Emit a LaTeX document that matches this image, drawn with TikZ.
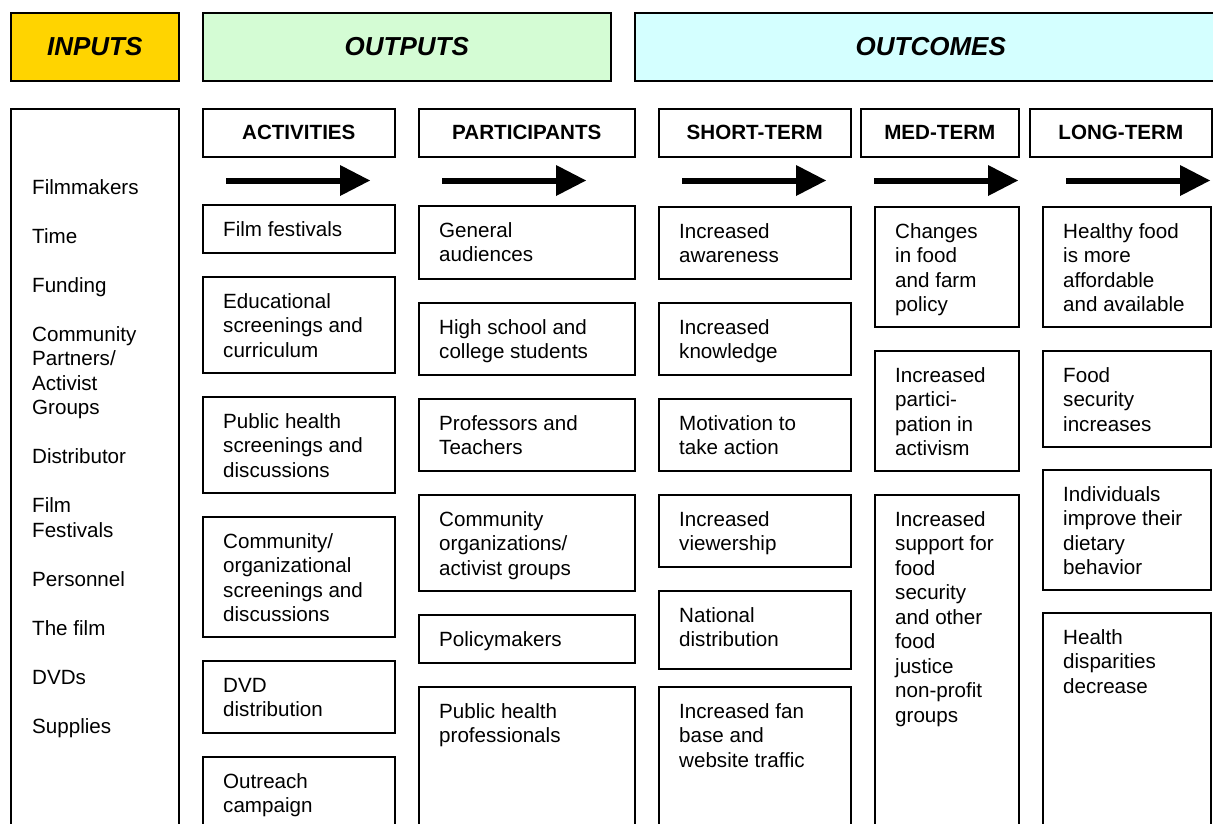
\documentclass[tikz,border=0pt]{standalone}
\usepackage{fontspec}
\setmainfont{Liberation Sans}
\definecolor{inputsgold}{RGB}{255,212,0}
\definecolor{outputsgreen}{RGB}{212,252,212}
\definecolor{outcomescyan}{RGB}{212,255,255}
\newcommand{\lmbox}[6]{%
  \node[frame, minimum width=#4pt, minimum height=#5pt] (#1) at (#2,#3) {};
  \node[txt] (#1-t) at ([xshift=21pt,yshift=-32pt]#1.north west) {\parbox[t]{#4pt}{\raggedright #6}};
}
\begin{document}
\begin{tikzpicture}[x=1pt,y=-1pt,
  frame/.style={draw=black, line width=1.6pt, rectangle, inner sep=0pt, anchor=north west},
  bigtitle/.style={font=\fontsize{26}{30}\selectfont\bfseries\itshape},
  coltitle/.style={font=\fontsize{20.6}{24.5}\selectfont\bfseries},
  txt/.style={font=\fontsize{20.6}{24.5}\selectfont, inner sep=0pt, anchor=base west},
  flowarrow/.style={fill=black}
]
\useasboundingbox (0,0) rectangle (1213,823);
\clip (0,0) rectangle (1213,823);

% top headers
\node[frame, bigtitle, fill=inputsgold, minimum width=168pt, minimum height=68pt] (hin) at (10,12) {INPUTS};
\node[frame, bigtitle, fill=outputsgreen, minimum width=408pt, minimum height=68pt] (hout) at (202,12) {OUTPUTS};
\node[frame, bigtitle, fill=outcomescyan, minimum width=592pt, minimum height=68pt] (hoc) at (634,12) {OUTCOMES};

% inputs column
\node[frame, minimum width=168pt, minimum height=800pt] (inbox) at (10,108) {};
\node[txt] (inlist) at (32,194) {\parbox[t]{150pt}{\raggedright
Filmmakers\\[24.5pt]
Time\\[24.5pt]
Funding\\[24.5pt]
Community\\Partners/\\Activist\\Groups\\[24.5pt]
Distributor\\[24.5pt]
Film\\Festivals\\[24.5pt]
Personnel\\[24.5pt]
The film\\[24.5pt]
DVDs\\[24.5pt]
Supplies}};

% column headers
\node[frame, coltitle, minimum width=192pt, minimum height=48pt] (cact) at (202,108) {ACTIVITIES};
\node[frame, coltitle, minimum width=216pt, minimum height=48pt] (cpar) at (418,108) {PARTICIPANTS};
\node[frame, coltitle, minimum width=192pt, minimum height=48pt] (cst) at (658,108) {SHORT-TERM};
\node[frame, coltitle, minimum width=158pt, minimum height=48pt] (cmt) at (860,108) {MED-TERM};
\node[frame, coltitle, minimum width=182pt, minimum height=48pt] (clt) at (1029,108) {LONG-TERM};

% arrows
\foreach \ax in {226,442,682,874,1066}{
  \fill[flowarrow] (\ax,178) rectangle (\ax+115,184);
  \fill[flowarrow] (\ax+114,165) -- (\ax+144,180.5) -- (\ax+114,196) -- cycle;
}

% activities
\lmbox{a1}{202}{204}{192}{48}{Film festivals}
\lmbox{a2}{202}{276}{192}{96}{Educational\\screenings and\\curriculum}
\lmbox{a3}{202}{396}{192}{96}{Public health\\screenings and\\discussions}
\lmbox{a4}{202}{516}{192}{120}{Community/\\organizational\\screenings and\\discussions}
\lmbox{a5}{202}{660}{192}{72}{DVD\\distribution}
\lmbox{a6}{202}{756}{192}{150}{Outreach\\campaign}

% participants
\lmbox{p1}{418}{205}{216}{73}{General\\audiences}
\lmbox{p2}{418}{302}{216}{72}{High school and\\college students}
\lmbox{p3}{418}{398}{216}{72}{Professors and\\Teachers}
\lmbox{p4}{418}{494}{216}{96}{Community\\organizations/\\activist groups}
\lmbox{p5}{418}{614}{216}{48}{Policymakers}
\lmbox{p6}{418}{686}{216}{200}{Public health\\professionals}

% short-term
\lmbox{s1}{658}{206}{192}{72}{Increased\\awareness}
\lmbox{s2}{658}{302}{192}{72}{Increased\\knowledge}
\lmbox{s3}{658}{398}{192}{72}{Motivation to\\take action}
\lmbox{s4}{658}{494}{192}{72}{Increased\\viewership}
\lmbox{s5}{658}{590}{192}{78}{National\\distribution}
\lmbox{s6}{658}{686}{192}{200}{Increased fan\\base and\\website traffic}

% med-term
\lmbox{m1}{874}{206}{144}{120}{Changes\\in food\\and farm\\policy}
\lmbox{m2}{874}{350}{144}{120}{Increased\\partici-\\pation in\\activism}
\lmbox{m3}{874}{494}{144}{400}{Increased\\support for\\food\\security\\and other\\food\\justice\\non-profit\\groups}

% long-term
\lmbox{l1}{1042}{206}{168}{120}{Healthy food\\is more\\affordable\\and available}
\lmbox{l2}{1042}{350}{168}{96}{Food\\security\\increases}
\lmbox{l3}{1042}{469}{168}{120}{Individuals\\improve their\\dietary\\behavior}
\lmbox{l4}{1042}{612}{168}{300}{Health\\disparities\\decrease}
\end{tikzpicture}
\end{document}
